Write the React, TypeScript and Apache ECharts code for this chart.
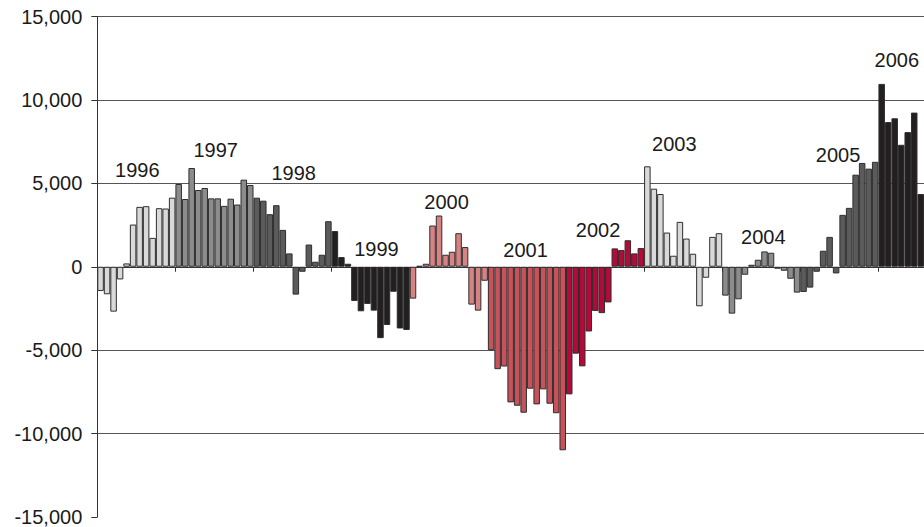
import React, { useEffect, useRef } from "react";
import * as echarts from "echarts";

const years = ["1996", "1997", "1998", "1999", "2000", "2001", "2002", "2003", "2004", "2005", "2006"];
const months = ["01", "02", "03", "04", "05", "06", "07", "08", "09", "10", "11", "12"];

const v1996 = [-1450, -1650, -2690, -760, 200, 2530, 3590, 3630, 1730, 3510, 3490, 4140];
const v1997 = [4960, 4060, 5920, 4600, 4720, 4100, 4100, 3650, 4080, 3730, 5220, 4900];
const v1998 = [4140, 3960, 3150, 3690, 2210, 800, -1670, -300, 1330, 300, 720, 2730];
const v1999 = [2140, 580, 180, -2050, -2670, -2230, -2630, -4280, -3490, -1500, -3700, -3790];
const v2000 = [-1910, 50, 180, 2470, 3070, 720, 900, 2010, 1180, -2270, -2630, -840];
const v2001 = [-5000, -6140, -5980, -8130, -8330, -8750, -7310, -8250, -7350, -8210, -8780, -11000];
const v2002 = [-7650, -5210, -5970, -3880, -2650, -2780, -2140, 1100, 1000, 1590, 800, 1120];
const v2003 = [6020, 4680, 4360, 2050, 660, 2690, 1690, 780, -2370, -660, 1790, 2010];
const v2004 = [-1730, -2810, -1950, -480, 120, 420, 920, 840, -120, -240, -720, -1550];
const v2005 = [-1510, -1250, -300, 960, 1790, -400, 3110, 3530, 5520, 6220, 5880, 6290];
const v2006 = [10960, 8670, 8900, 7310, 8070, 9240, 4360];

const yearValues = [v1996, v1997, v1998, v1999, v2000, v2001, v2002, v2003, v2004, v2005, v2006];

const yearColors = [
  "#d9d9d9", "#8c8c8c", "#5b5b5b", "#231f20",
  "#d88383", "#c85259", "#b30a3a",
  "#d9d9d9", "#8c8c8c", "#5b5b5b", "#231f20",
];

// year label anchors: position along months axis (continuous) and value
const labelYears = ["1996", "1997", "1998", "1999", "2000", "2001", "2002", "2003", "2004", "2005", "2006"];
const labelMonthPos = [6.14, 18.19, 30.17, 42.88, 53.65, 65.79, 76.92, 88.64, 102.32, 113.79, 122.82];
const labelValues = [5790, 7000, 5620, 1035, 3890, 990, 2230, 7330, 1800, 6670, 12400];

const yTicks = { min: -15000, max: 15000, interval: 5000 };

const FONT = "'Liberation Sans', Arial, Helvetica, sans-serif";

export default function App() {
  const ref = useRef<HTMLDivElement>(null);

  useEffect(() => {
    if (!ref.current) return;
    const chart = echarts.init(ref.current, undefined, { renderer: "svg" });

    const categories: string[] = [];
    const barData: any[] = [];
    yearValues.forEach((vals, yi) => {
      vals.forEach((v, mi) => {
        categories.push(years[yi] + "-" + months[mi]);
        barData.push({ value: v, itemStyle: { color: yearColors[yi] } });
      });
    });
    const n = categories.length;
    const barW = 6.542;

    const labelData = labelYears.map((name, i) => ({
      name,
      value: [labelMonthPos[i], labelValues[i]],
    }));

    chart.setOption({
      animation: false,
      grid: { left: 97.3, top: 16.5, height: 501.5, width: n * barW, containLabel: false },
      xAxis: [
        {
          type: "category",
          data: categories,
          boundaryGap: true,
          axisLine: { onZero: true, lineStyle: { color: "#333", width: 1 } },
          axisTick: {
            show: true,
            interval: (idx: number) => idx % 12 === 0,
            length: 5,
            lineStyle: { color: "#333" },
          },
          axisLabel: { show: false },
          splitLine: { show: false },
        },
        {
          type: "value",
          show: false,
          min: 0,
          max: n,
          gridIndex: 0,
        },
      ],
      yAxis: {
        type: "value",
        min: yTicks.min,
        max: yTicks.max,
        interval: yTicks.interval,
        axisLine: { show: true, lineStyle: { color: "#333", width: 1 } },
        axisTick: { show: true, length: 6, lineStyle: { color: "#333" } },
        axisLabel: {
          margin: 15,
          color: "#1a1a1a",
          fontSize: 20,
          fontFamily: FONT,
          formatter: (v: number) => v.toLocaleString("en-US"),
        },
        splitLine: {
          show: true,
          lineStyle: {
            color: ["rgba(0,0,0,0)", "#555", "#555", "#555", "#555", "#555", "#555"],
            width: 1,
          },
        },
      },
      series: [
        {
          type: "bar",
          data: barData,
          barCategoryGap: "0%",
          itemStyle: { borderColor: "#2e2e2e", borderWidth: 1 },
          xAxisIndex: 0,
        },
        {
          type: "scatter",
          xAxisIndex: 1,
          data: labelData,
          symbol: "none",
          symbolSize: 0,
          silent: true,
        },
      ],
    });

    const texts = labelData.map((d) => {
      const pt = chart.convertToPixel({ seriesIndex: 1 }, d.value) as number[];
      return {
        type: "text",
        x: pt[0],
        y: pt[1],
        z: 10,
        silent: true,
        style: {
          text: d.name,
          fill: "#1a1a1a",
          font: "20px " + FONT,
          align: "center",
          verticalAlign: "middle",
        },
      };
    });
    chart.setOption({ graphic: { elements: texts } });

    return () => chart.dispose();
  }, []);

  return (
    <div
      ref={ref}
      style={{ position: "fixed", left: 0, top: 0, width: 924, height: 527, background: "#fff" }}
    />
  );
}
